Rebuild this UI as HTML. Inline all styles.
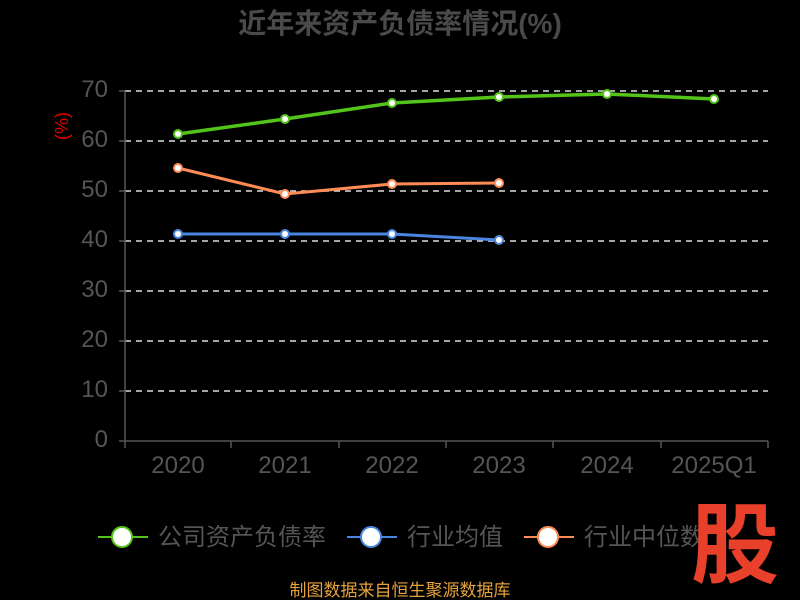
<!DOCTYPE html>
<html><head><meta charset="utf-8"><style>
html,body{margin:0;padding:0;background:#000;width:800px;height:600px;overflow:hidden}
text{font-family:"Liberation Sans","Noto Sans CJK SC",sans-serif}
</style></head><body>
<svg width="800" height="600" viewBox="0 0 800 600">
<rect width="800" height="600" fill="#000"/>
<text x="400" y="33" text-anchor="middle" font-size="28" font-weight="bold" fill="#4a4a4a">近年来资产负债率情况(%)</text>
<text transform="translate(68,126) rotate(-90)" text-anchor="middle" font-size="18" fill="#d00">(%)</text>
<g stroke="#ddd" stroke-width="1.5" stroke-dasharray="6,5">
<line x1="125" y1="91" x2="768" y2="91"/><line x1="125" y1="141" x2="768" y2="141"/>
<line x1="125" y1="191" x2="768" y2="191"/><line x1="125" y1="241" x2="768" y2="241"/>
<line x1="125" y1="291" x2="768" y2="291"/><line x1="125" y1="341" x2="768" y2="341"/>
<line x1="125" y1="391" x2="768" y2="391"/>
</g>
<g stroke="#555" stroke-width="1.5">
<line x1="125" y1="91" x2="125" y2="441"/><line x1="125" y1="441" x2="768" y2="441"/>
<line x1="119" y1="91" x2="125" y2="91"/><line x1="119" y1="141" x2="125" y2="141"/><line x1="119" y1="191" x2="125" y2="191"/><line x1="119" y1="241" x2="125" y2="241"/><line x1="119" y1="291" x2="125" y2="291"/><line x1="119" y1="341" x2="125" y2="341"/><line x1="119" y1="391" x2="125" y2="391"/><line x1="119" y1="441" x2="125" y2="441"/>
<line x1="125" y1="441" x2="125" y2="448"/><line x1="231" y1="441" x2="231" y2="448"/><line x1="339" y1="441" x2="339" y2="448"/><line x1="446" y1="441" x2="446" y2="448"/><line x1="553" y1="441" x2="553" y2="448"/><line x1="661" y1="441" x2="661" y2="448"/><line x1="768" y1="441" x2="768" y2="448"/>
</g>
<g font-size="24" fill="#555" text-anchor="end">
<text x="108" y="97">70</text><text x="108" y="147">60</text><text x="108" y="197">50</text><text x="108" y="247">40</text><text x="108" y="297">30</text><text x="108" y="347">20</text><text x="108" y="397">10</text><text x="108" y="447">0</text>
</g>
<g font-size="24" fill="#555" text-anchor="middle">
<text x="178" y="473">2020</text><text x="285" y="473">2021</text><text x="392" y="473">2022</text><text x="499" y="473">2023</text><text x="607" y="473">2024</text><text x="714" y="473">2025Q1</text>
</g>
<polyline points="178,134 285,119 392,103 499,97 607,94 714,99" fill="none" stroke="#52c41a" stroke-width="3.5"/>
<polyline points="178,168 285,194 392,184 499,183" fill="none" stroke="#ff8c55" stroke-width="3"/>
<polyline points="178,234 285,234 392,234 499,240" fill="none" stroke="#4a86e0" stroke-width="3"/>
<g fill="#fff" stroke-width="2">
<g stroke="#52c41a"><circle cx="178" cy="134" r="4"/><circle cx="285" cy="119" r="4"/><circle cx="392" cy="103" r="4"/><circle cx="499" cy="97" r="4"/><circle cx="607" cy="94" r="4"/><circle cx="714" cy="99" r="4"/></g>
<g stroke="#ff8c55"><circle cx="178" cy="168" r="4"/><circle cx="285" cy="194" r="4"/><circle cx="392" cy="184" r="4"/><circle cx="499" cy="183" r="4"/></g>
<g stroke="#4a86e0"><circle cx="178" cy="234" r="4"/><circle cx="285" cy="234" r="4"/><circle cx="392" cy="234" r="4"/><circle cx="499" cy="240" r="4"/></g>
</g>
<g stroke-width="2">
<line x1="98" y1="537" x2="148" y2="537" stroke="#52c41a"/><circle cx="122" cy="537" r="10" fill="#fff" stroke="#52c41a"/>
<line x1="347" y1="537" x2="397" y2="537" stroke="#4a86e0"/><circle cx="371" cy="537" r="10" fill="#fff" stroke="#4a86e0"/>
<line x1="524" y1="537" x2="574" y2="537" stroke="#ff8c55"/><circle cx="548" cy="537" r="10" fill="#fff" stroke="#ff8c55"/>
</g>
<g font-size="24" fill="#555">
<text x="158" y="545">公司资产负债率</text><text x="407" y="545">行业均值</text><text x="584" y="545">行业中位数</text>
</g>
<text x="735" y="576" text-anchor="middle" font-size="88" font-weight="bold" fill="#e8402a">股</text>
<text x="400" y="596" text-anchor="middle" font-size="17" fill="#e6a23c">制图数据来自恒生聚源数据库</text>
</svg>
</body></html>
